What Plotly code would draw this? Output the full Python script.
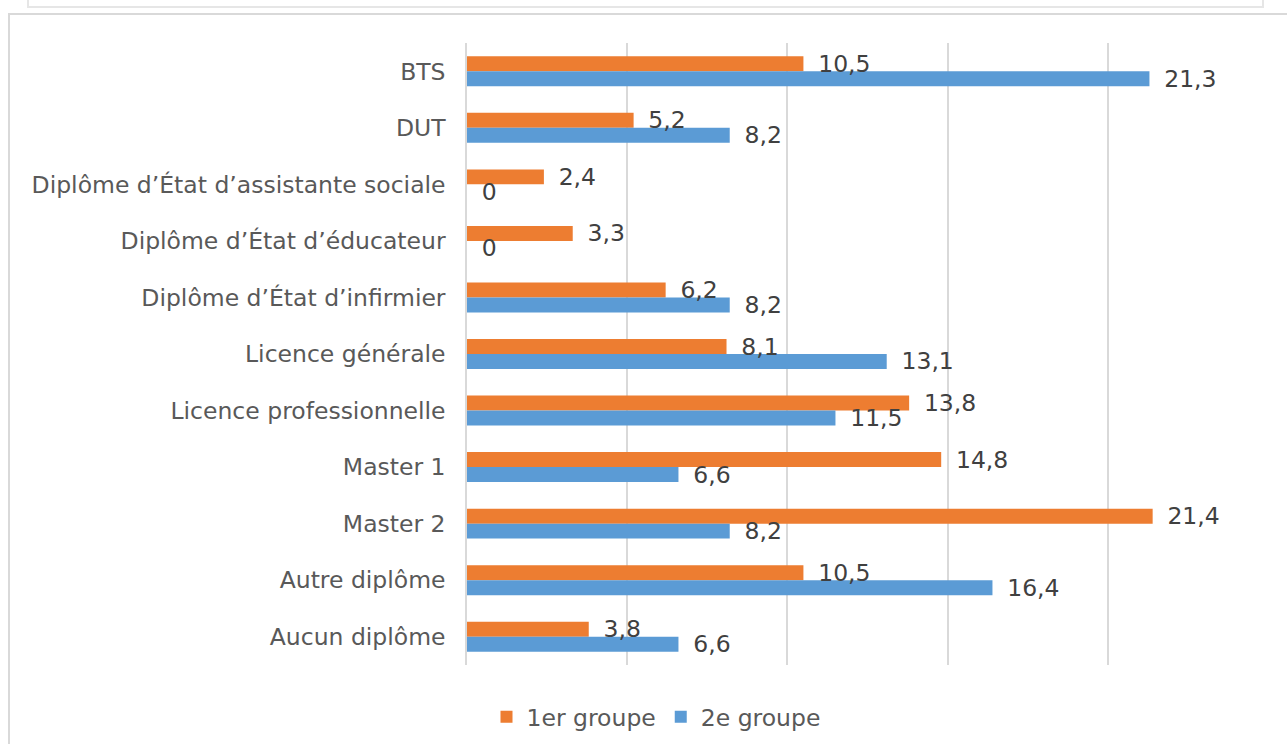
import plotly.graph_objects as go

categories = ["BTS", "DUT", "Diplôme d’État d’assistante sociale", "Diplôme d’État d’éducateur",
              "Diplôme d’État d’infirmier", "Licence générale", "Licence professionnelle",
              "Master 1", "Master 2", "Autre diplôme", "Aucun diplôme"]
groupe1 = [10.5, 5.2, 2.4, 3.3, 6.2, 8.1, 13.8, 14.8, 21.4, 10.5, 3.8]
groupe2 = [21.3, 8.2, 0, 0, 8.2, 13.1, 11.5, 6.6, 8.2, 16.4, 6.6]
series_names = ["1er groupe", "2e groupe"]
colors = ["#ED7D31", "#5B9BD5"]

def fmt(v):
    s = ("%g" % v).replace(".", ",")
    return "\u2002" + s

FONT = "Verdana, DejaVu Sans, sans-serif"
FS = 23.5

W, H = 1287, 744
PX0, PX1, PY0, PY1 = 467, 1268, 43, 665  # plot area in page pixels

def paper_x(px):
    return (px - PX0) / (PX1 - PX0)

def paper_y(py):
    return (PY1 - py) / (PY1 - PY0)

fig = go.Figure()
series = list(zip(series_names, [groupe1, groupe2], colors))
# coloured bars
for i, (name, vals, col) in enumerate(series):
    fig.add_trace(go.Bar(
        y=categories, x=vals, name=name, orientation="h", offsetgroup=str(i),
        marker=dict(color=col, line=dict(width=0)),
    ))
# transparent overlay bars carrying the data labels (drawn on top of all bars)
for i, (name, vals, col) in enumerate(series):
    fig.add_trace(go.Bar(
        y=categories, x=vals, name=name, orientation="h", offsetgroup=str(i),
        marker=dict(color="rgba(0,0,0,0)", line=dict(width=0)), showlegend=False,
        text=[fmt(v) for v in vals], textposition="outside",
        textfont=dict(family=FONT, size=FS, color="#404040"),
        constraintext="none", cliponaxis=False, hoverinfo="skip",
    ))

fig.update_layout(
    width=W, height=H,
    margin=dict(l=PX0, r=W - PX1, t=PY0, b=H - PY1),
    barmode="group", bargap=0.47, bargroupgap=0,
    plot_bgcolor="white", paper_bgcolor="white",
    font=dict(family=FONT, size=FS, color="#595959"),
    legend=dict(orientation="h", xref="container", yref="container",
                x=656 / W, xanchor="center",
                y=1 - 717 / H, yanchor="middle",
                font=dict(size=FS, color="#595959"), traceorder="normal",
                itemwidth=30, tracegroupgap=0),
    showlegend=True,
    xaxis=dict(range=[0, 25], dtick=5, showticklabels=False, showgrid=True,
               gridcolor="#D9D9D9", gridwidth=1.5, zeroline=False, showline=False),
    yaxis=dict(autorange="reversed", showgrid=False, showline=True,
               linecolor="#D9D9D9", linewidth=1.5, ticks="", ticklabelstandoff=15,
               tickfont=dict(size=FS, color="#595959")),
    shapes=[
        dict(type="rect", xref="paper", yref="paper",
             x0=paper_x(9), x1=paper_x(1320), y0=paper_y(770), y1=paper_y(14),
             line=dict(color="#D9D9D9", width=2), layer="below"),
        dict(type="rect", xref="paper", yref="paper",
             x0=paper_x(28), x1=paper_x(1263), y0=paper_y(7), y1=paper_y(-20),
             line=dict(color="#E6E6E6", width=2), layer="below"),
    ],
)
fig.write_html("out.html", config={"displayModeBar": False},
               post_script="document.body.style.margin='0px';document.body.style.overflow='hidden';")
